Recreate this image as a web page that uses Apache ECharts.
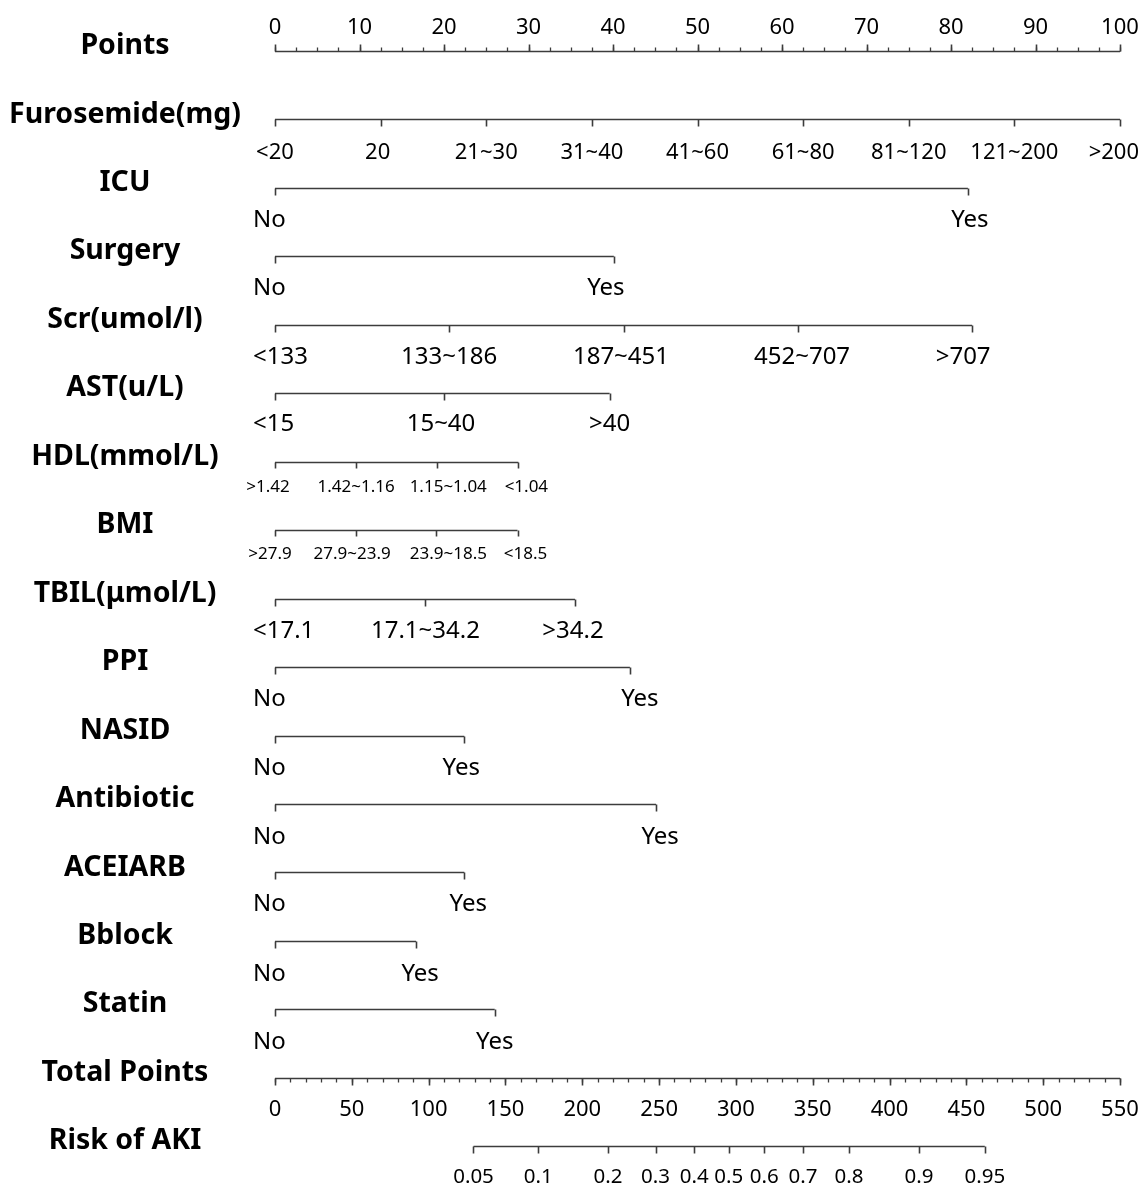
<!DOCTYPE html>
<html><head><meta charset="utf-8">
<script src="https://cdn.jsdelivr.net/npm/echarts@6/dist/echarts.min.js"></script>
<style>html,body{margin:0;padding:0;background:#fff}#c{width:1148px;height:1187px}</style>
</head><body><div id="c"></div>
<script>
// ---------- data ----------
const pointsTicks = [0,10,20,30,40,50,60,70,80,90,100];
const pointsMinorStep = 2.5;

const furosemideLabels = ['<20','20','21~30','31~40','41~60','61~80','81~120','121~200','>200'];
const furosemidePoints = [0,12.5,25,37.5,50,62.5,75,87.5,100];

const icuLabels = ['No','Yes'];
const icuPoints = [0,82];

const surgeryLabels = ['No','Yes'];
const surgeryPoints = [0,40.1];

const scrLabels = ['<133','133~186','187~451','452~707','>707'];
const scrPoints = [0,20.6,41.3,61.9,82.5];

const astLabels = ['<15','15~40','>40'];
const astPoints = [0,20,39.6];

const hdlLabels = ['>1.42','1.42~1.16','1.15~1.04','<1.04'];
const hdlPoints = [0,9.6,19.2,28.8];

const bmiLabels = ['>27.9','27.9~23.9','23.9~18.5','<18.5'];
const bmiPoints = [0,9.6,19.1,28.7];

const tbilLabels = ['<17.1','17.1~34.2','>34.2'];
const tbilPoints = [0,17.8,35.5];

const ppiLabels = ['No','Yes'];
const ppiPoints = [0,42];

const nasidLabels = ['No','Yes'];
const nasidPoints = [0,22.4];

const antibioticLabels = ['No','Yes'];
const antibioticPoints = [0,45.1];

const aceiarbLabels = ['No','Yes'];
const aceiarbPoints = [0,22.4];

const bblockLabels = ['No','Yes'];
const bblockPoints = [0,16.7];

const statinLabels = ['No','Yes'];
const statinPoints = [0,26];

const totalPointsTicks = [0,50,100,150,200,250,300,350,400,450,500,550];
const totalPointsMinorStep = 10;

const riskLabels = ['0.05','0.1','0.2','0.3','0.4','0.5','0.6','0.7','0.8','0.9','0.95'];
const riskTotalPoints = [129.2,171.4,216.7,247.7,272.9,295.3,318.5,343.7,373.6,419.2,462.0];

// ---------- layout ----------
const W = 1148, H = 1187;
const ROW_TOP = 51, ROW_GAP = 68.45;
const TITLE_X = 125;
const LINE_COLOR = '#3c3c3c';
const FONT = "'Noto Sans', 'DejaVu Sans', sans-serif";
function rowY(i){ return ROW_TOP + i*ROW_GAP; }

// shift: pixel nudges of labels (layout only); firstLeft: first label left-aligned 22px left of its tick
const rows = [
  {title:'Points', axis:0, vals:pointsTicks, labels:pointsTicks.map(String), tickDir:-1, tickLen:7, minorStep:pointsMinorStep, minorLen:4, labelDy:-23, fs:22},
  {title:'Furosemide(mg)', axis:0, vals:furosemidePoints, labels:furosemideLabels, tickDir:1, tickLen:7, labelDy:33, fs:22, shift:[0,-3,0,0,0,0,0,0,0]},
  {title:'ICU', axis:0, vals:icuPoints, labels:icuLabels, tickDir:1, tickLen:7, labelDy:32, fs:24, firstLeft:true, shift:[0,2]},
  {title:'Surgery', axis:0, vals:surgeryPoints, labels:surgeryLabels, tickDir:1, tickLen:7, labelDy:32, fs:24, firstLeft:true, shift:[0,-8]},
  {title:'Scr(umol/l)', axis:0, vals:scrPoints, labels:scrLabels, tickDir:1, tickLen:7, labelDy:32, fs:24, firstLeft:true, shift:[0,0,-3,4,-9]},
  {title:'AST(u/L)', axis:0, vals:astPoints, labels:astLabels, tickDir:1, tickLen:7, labelDy:31, fs:24, firstLeft:true, shift:[0,-3,0]},
  {title:'HDL(mmol/L)', axis:0, vals:hdlPoints, labels:hdlLabels, tickDir:1, tickLen:6, labelDy:25, fs:17, shift:[-7,0,11,8]},
  {title:'BMI', axis:0, vals:bmiPoints, labels:bmiLabels, tickDir:1, tickLen:6, labelDy:24, fs:17, shift:[-5,-4,12,8]},
  {title:'TBIL(μmol/L)', axis:0, vals:tbilPoints, labels:tbilLabels, tickDir:1, tickLen:7, labelDy:33, fs:24, firstLeft:true, shift:[0,0,-2]},
  {title:'PPI', axis:0, vals:ppiPoints, labels:ppiLabels, tickDir:1, tickLen:7, labelDy:32, fs:24, firstLeft:true, shift:[0,10]},
  {title:'NASID', axis:0, vals:nasidPoints, labels:nasidLabels, tickDir:1, tickLen:7, labelDy:33, fs:24, firstLeft:true, shift:[0,-3]},
  {title:'Antibiotic', axis:0, vals:antibioticPoints, labels:antibioticLabels, tickDir:1, tickLen:7, labelDy:33, fs:24, firstLeft:true, shift:[0,4]},
  {title:'ACEIARB', axis:0, vals:aceiarbPoints, labels:aceiarbLabels, tickDir:1, tickLen:7, labelDy:32, fs:24, firstLeft:true, shift:[0,4]},
  {title:'Bblock', axis:0, vals:bblockPoints, labels:bblockLabels, tickDir:1, tickLen:7, labelDy:33, fs:24, firstLeft:true, shift:[0,4]},
  {title:'Statin', axis:0, vals:statinPoints, labels:statinLabels, tickDir:1, tickLen:7, labelDy:33, fs:24, firstLeft:true, shift:[0,0]},
  {title:'Total Points', axis:1, vals:totalPointsTicks, labels:totalPointsTicks.map(String), tickDir:1, tickLen:7, minorStep:totalPointsMinorStep, minorLen:4, labelDy:32, fs:22},
  {title:'Risk of AKI', axis:1, vals:riskTotalPoints, labels:riskLabels, tickDir:1, tickLen:7, labelDy:31, fs:20.5}
];

function makeSeries(row, idx){
  return {
    type:'custom', xAxisIndex:row.axis, yAxisIndex:0, clip:false, silent:true,
    data:[[row.vals[0], idx]],
    renderItem:function(params, api){
      const y = Math.round(rowY(idx)) + 0.5;
      const ch = [];
      const c = v => api.coord([v, rowY(idx)])[0];
      const x0 = c(row.vals[0]), x1 = c(row.vals[row.vals.length-1]);
      ch.push({type:'line', shape:{x1:x0, y1:y, x2:x1, y2:y}, style:{stroke:LINE_COLOR, lineWidth:1.6}});
      if (row.minorStep){
        const a = row.vals[0], b = row.vals[row.vals.length-1];
        for (let v = a; v <= b + 1e-9; v += row.minorStep){
          const x = Math.round(c(v)) + 0.5;
          ch.push({type:'line', shape:{x1:x, y1:y, x2:x, y2:y + row.tickDir*row.minorLen}, style:{stroke:LINE_COLOR, lineWidth:1.3}});
        }
      }
      row.vals.forEach((v, i) => {
        const x = Math.round(c(v)) + 0.5;
        ch.push({type:'line', shape:{x1:x, y1:y, x2:x, y2:y + row.tickDir*row.tickLen}, style:{stroke:LINE_COLOR, lineWidth:1.6}});
        const txt = row.labels[i];
        let tx = c(v) + (row.shift ? row.shift[i] : 0), align = 'center';
        if (i === 0 && row.firstLeft){ tx = c(v) - 22; align = 'left'; }
        const estW = txt.length * 0.6 * row.fs;
        if (tx + estW/2 > W - 8){ tx = W - 9; align = 'right'; }
        ch.push({type:'text', x:tx, y:rowY(idx) + row.labelDy, style:{text:txt, fill:'#000', font:row.fs + 'px ' + FONT, align:align, verticalAlign:'middle'}});
      });
      ch.push({type:'text', x:TITLE_X, y:rowY(idx) - 5, style:{text:row.title, fill:'#000', font:'bold 28.5px ' + FONT, align:'center', verticalAlign:'middle'}});
      return {type:'group', children:ch};
    }
  };
}

const chart = echarts.init(document.getElementById('c'), null, {renderer:'canvas', width:W, height:H});
chart.setOption({
  animation:false,
  backgroundColor:'#fff',
  grid:{left:275, right:W-1120, top:0, bottom:0, containLabel:false},
  xAxis:[
    {type:'value', min:0, max:100, show:false},
    {type:'value', min:0, max:550, show:false}
  ],
  yAxis:{type:'value', min:0, max:H, inverse:true, show:false},
  series: rows.map(makeSeries)
});
</script></body></html>
